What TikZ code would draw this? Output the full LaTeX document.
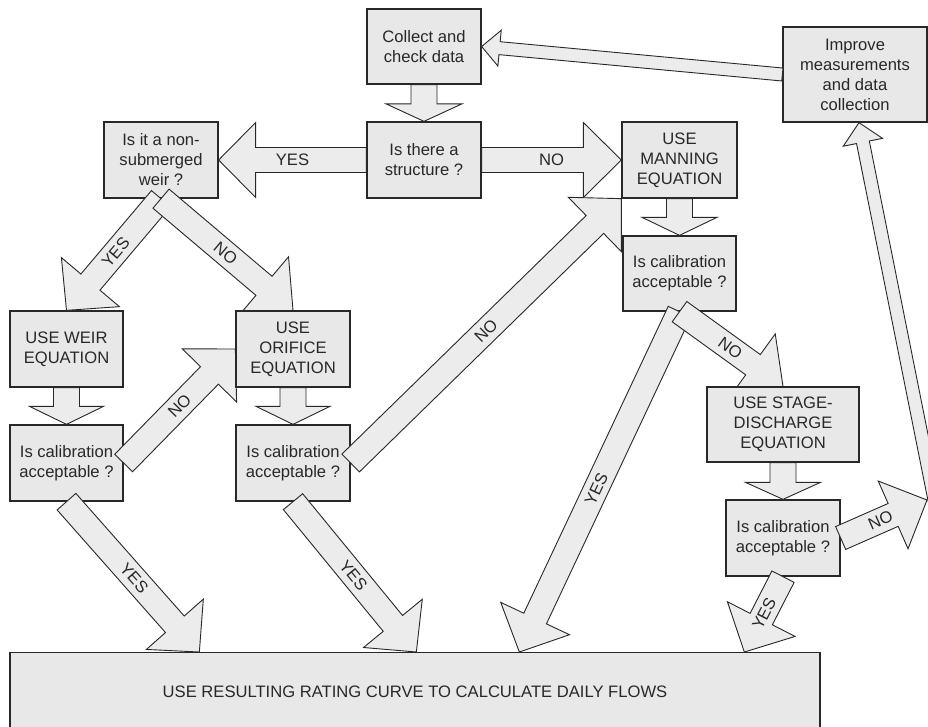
\documentclass[tikz,border=0pt]{standalone}
\usepackage{fontspec}
\setmainfont{Liberation Sans}
\usetikzlibrary{calc}
\definecolor{boxfill}{RGB}{232,232,232}
\definecolor{arrfill}{RGB}{236,236,236}
\definecolor{edgecol}{RGB}{40,40,40}
\definecolor{txtcol}{RGB}{40,40,40}
\pgfdeclarelayer{arrowlayer}
\pgfdeclarelayer{frontlayer}
\pgfsetlayers{main,arrowlayer,frontlayer}
% #2 start, #3 tip, #4 shaft half width, #5 head half width, #6 head length
\newcommand{\blockarrow}[6][]{%
  \coordinate (bahead) at ($(#3)!#6!(#2)$);
  \draw[barrow,#1] ($(#2)!#4!90:(#3)$) -- ($(bahead)!#4!90:(#3)$) -- ($(bahead)!#5!90:(#3)$) -- (#3)
    -- ($(bahead)!#5!-90:(#3)$) -- ($(bahead)!#4!-90:(#3)$) -- ($(#2)!#4!-90:(#3)$) -- cycle;}
\begin{document}
\begin{tikzpicture}[x=1pt,y=-1pt,
  box/.style={draw=edgecol, line width=1.3pt, fill=boxfill, text=txtcol, align=center,
    inner sep=0pt, font=\fontsize{16.6}{20}\selectfont},
  barrow/.style={draw=edgecol, line width=0.9pt, fill=arrfill, line join=miter},
  lbl/.style={text=txtcol, inner sep=0pt, sloped, font=\fontsize{16.6}{20}\selectfont}]
\useasboundingbox[fill=white] (0,0) rectangle (928,726);

% ---------- boxes (main layer) ----------
\node[box, minimum width=144pt, minimum height=95pt] (improve) at (855,74.5) {Improve\\measurements\\and data\\collection};
\node[box, minimum width=114pt, minimum height=75pt] (collect) at (424,46.5) {Collect and\\check data};
\node[box, minimum width=114pt, minimum height=76pt] (structure) at (424,160) {Is there a\\structure ?};
\node[box, minimum width=114pt, minimum height=76pt] (nonsub) at (161,160) {Is it a non-\\submerged\\weir ?};
\node[box, minimum width=115pt, minimum height=76pt] (manning) at (679.5,160) {USE\\MANNING\\EQUATION};
\node[box, minimum width=113pt, minimum height=75pt] (mancal) at (679.5,273.5) {Is calibration\\acceptable ?};
\node[box, minimum width=113pt, minimum height=76pt] (weir) at (66.5,349) {USE WEIR\\EQUATION};
\node[box, minimum width=113pt, minimum height=76pt] (weircal) at (66.5,463) {Is calibration\\acceptable ?};
\node[box, minimum width=114pt, minimum height=76pt] (oricall) at (293,463) {Is calibration\\acceptable ?};
\node[box, minimum width=114pt, minimum height=76pt] (stagecal) at (783,538) {Is calibration\\acceptable ?};
\node[box, minimum width=810pt, minimum height=84pt, anchor=north] (final) at (415,652)
  {\raisebox{6pt}{USE RESULTING RATING CURVE TO CALCULATE DAILY FLOWS}};

\begin{pgfonlayer}{frontlayer}
\node[box, minimum width=114pt, minimum height=76pt] (orifice) at (293,349) {USE\\ORIFICE\\EQUATION};
\node[box, minimum width=152pt, minimum height=75pt] (stage) at (783,424.5) {USE STAGE-\\DISCHARGE\\EQUATION};
\end{pgfonlayer}

% ---------- connector end points ----------
\coordinate (f1) at ($(final.north west)+(190,0)$);
\coordinate (f2) at ($(final.north west)+(407,0)$);
\coordinate (f3) at ($(final.north west)+(510,0)$);
\coordinate (f4) at ($(final.north west)+(735,0)$);
\coordinate (nohead) at (927,500);
\coordinate (loopstart) at (934.5,500);
\coordinate (improvetip) at ($(improve.south)+(4,0)$);

% ---------- block arrows ----------
\begin{pgfonlayer}{arrowlayer}
\blockarrow{improve.west}{collect.east}{6.5pt}{18pt}{18pt}
\blockarrow{collect.south}{structure.north}{13pt}{38pt}{17.5pt}
\blockarrow{structure.west}{nonsub.east}{12.5pt}{37.5pt}{37pt}
\path (structure.west) -- node[lbl, pos=0.5] {YES} (nonsub.east);
\blockarrow{structure.east}{manning.west}{12.5pt}{37.5pt}{38pt}
\path (structure.east) -- node[lbl, pos=0.5] {NO} (manning.west);
\blockarrow{nonsub.south}{weir.north}{12.5pt}{38pt}{37pt}
\path (nonsub.south) -- node[lbl, pos=0.48] {YES} (weir.north);
\blockarrow{nonsub.south}{orifice.north}{12.5pt}{38pt}{38pt}
\path (nonsub.south) -- node[lbl, pos=0.49] {NO} (orifice.north);
\blockarrow{weir.south}{weircal.north}{13pt}{37pt}{18pt}
\blockarrow{orifice.south}{oricall.north}{13pt}{37pt}{18pt}
\blockarrow{weircal.east}{orifice.west}{12.5pt}{38pt}{37pt}
\path (weircal.east) -- node[lbl, pos=0.5] {NO} (orifice.west);
\blockarrow{oricall.east}{manning.south west}{12.5pt}{38pt}{37pt}
\path (oricall.east) -- node[lbl, pos=0.5] {NO} (manning.south west);
\blockarrow{manning.south}{mancal.north}{13pt}{37.5pt}{18pt}
\blockarrow{mancal.south}{f3}{12.5pt}{38pt}{37pt}
\path (mancal.south) -- node[lbl, pos=0.52] {YES} (f3);
\blockarrow{mancal.south}{stage.north}{12.5pt}{38pt}{37pt}
\path (mancal.south) -- node[lbl, pos=0.49] {NO} (stage.north);
\blockarrow{stage.south}{stagecal.north}{13pt}{37.5pt}{17pt}
\blockarrow{stagecal.east}{nohead}{12.5pt}{37pt}{37pt}
\path (stagecal.east) -- node[lbl, pos=0.46] {NO} (nohead);
\blockarrow{loopstart}{improvetip}{6.5pt}{20pt}{20pt}
\blockarrow{weircal.south}{f1}{12.5pt}{38pt}{37pt}
\path (weircal.south) -- node[lbl, pos=0.51] {YES} (f1);
\blockarrow{oricall.south}{f2}{12.5pt}{38pt}{37pt}
\path (oricall.south) -- node[lbl, pos=0.49] {YES} (f2);
\blockarrow{stagecal.south}{f4}{12.5pt}{38pt}{37pt}
\path (stagecal.south) -- node[lbl, pos=0.49] {YES} (f4);
\end{pgfonlayer}
\end{tikzpicture}
\end{document}
